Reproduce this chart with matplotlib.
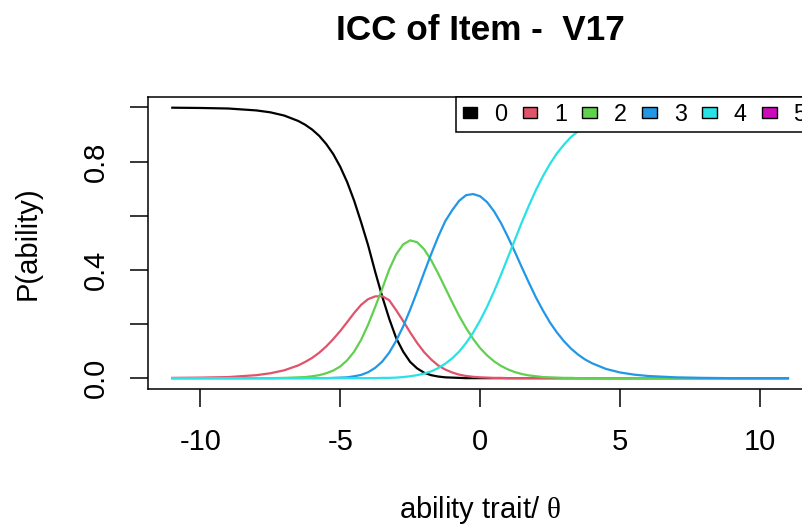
import matplotlib
matplotlib.use("Agg")
import matplotlib.pyplot as plt
from matplotlib.patches import Patch

plt.rcParams['font.family'] = 'Liberation Sans'
plt.rcParams['mathtext.fontset'] = 'custom'
plt.rcParams['mathtext.rm'] = 'Liberation Serif'

theta = [-11, -10, -9, -8, -7.5, -7, -6.5, -6.25, -6, -5.75, -5.5, -5.25, -5, -4.75, -4.5,
         -4.25, -4, -3.75, -3.5, -3.25, -3, -2.75, -2.5, -2.25, -2,
         -1.75, -1.5, -1.25, -1, -0.75, -0.5, -0.25, 0, 0.25, 0.5, 0.75, 1,
         1.25, 1.5, 1.75, 2, 2.25, 2.5, 2.75, 3, 3.25, 3.5, 3.75, 4, 4.5, 5, 5.5, 6,
         7, 8, 9, 10, 11]

p0 = [0.999, 0.998, 0.996, 0.989, 0.982, 0.970, 0.950, 0.936, 0.918, 0.895, 0.865, 0.828, 0.781, 0.724, 0.655,
      0.575, 0.490, 0.393, 0.302, 0.220, 0.148, 0.098, 0.060, 0.036, 0.020,
      0.011, 0.006, 0.003, 0.002, 0.001, 0, 0, 0, 0, 0, 0, 0,
      0, 0, 0, 0, 0, 0, 0, 0, 0, 0, 0, 0, 0, 0, 0, 0,
      0, 0, 0, 0, 0]

p1 = [0.001, 0.002, 0.004, 0.011, 0.018, 0.029, 0.047, 0.060, 0.075, 0.094, 0.117, 0.144, 0.174, 0.207, 0.241,
      0.271, 0.292, 0.302, 0.303, 0.288, 0.251, 0.211, 0.169, 0.130, 0.096,
      0.069, 0.047, 0.032, 0.021, 0.013, 0.008, 0.005, 0.003, 0.002, 0.001, 0.001, 0,
      0, 0, 0, 0, 0, 0, 0, 0, 0, 0, 0, 0, 0, 0, 0, 0,
      0, 0, 0, 0, 0]

p2 = [0, 0, 0, 0, 0, 0.001, 0.003, 0.004, 0.007, 0.011, 0.018, 0.028, 0.043, 0.066, 0.098,
      0.142, 0.198, 0.263, 0.330, 0.401, 0.457, 0.494, 0.509, 0.502, 0.476,
      0.436, 0.387, 0.334, 0.281, 0.230, 0.185, 0.145, 0.111, 0.084, 0.062, 0.045, 0.032,
      0.022, 0.015, 0.010, 0.007, 0.004, 0.003, 0.002, 0.001, 0.001, 0, 0, 0, 0, 0, 0, 0,
      0, 0, 0, 0, 0]

p3 = [0, 0, 0, 0, 0, 0, 0, 0, 0, 0, 0, 0.001, 0.002, 0.003, 0.007,
      0.012, 0.022, 0.038, 0.061, 0.094, 0.138, 0.191, 0.253, 0.320, 0.390,
      0.458, 0.522, 0.579, 0.620, 0.655, 0.676, 0.680, 0.672, 0.650, 0.616, 0.572, 0.520,
      0.465, 0.407, 0.351, 0.297, 0.249, 0.205, 0.168, 0.136, 0.109, 0.087, 0.069, 0.055, 0.034, 0.021, 0.013, 0.008,
      0.003, 0.001, 0, 0, 0]

p4 = [0, 0, 0, 0, 0, 0, 0, 0, 0, 0, 0, 0, 0, 0, 0,
      0, 0, 0, 0.001, 0.001, 0.002, 0.004, 0.007, 0.011, 0.017,
      0.025, 0.037, 0.053, 0.073, 0.098, 0.130, 0.168, 0.213, 0.264, 0.321, 0.383, 0.448,
      0.513, 0.578, 0.639, 0.696, 0.747, 0.792, 0.831, 0.863, 0.891, 0.912, 0.931, 0.945, 0.966, 0.979, 0.987, 0.992,
      0.997, 0.999, 1.0, 1.0, 1.0]

categories = ['0', '1', '2', '3', '4', '5']
colors = ['#000000', '#DF536B', '#61D04F', '#2297E6', '#28E2E5', '#CD0BBC']
curves = [p0, p1, p2, p3, p4]

xticks = [-10, -5, 0, 5, 10]
yticks = [0.0, 0.2, 0.4, 0.6, 0.8, 1.0]
ylabels = ['0.0', '', '0.4', '', '0.8', '']

fig = plt.figure(figsize=(8.03, 5.27), dpi=100)
# plot region runs a little past the right edge of the device, as in the original
ax = fig.add_axes([0.1839, 0.2619, 0.8280, 0.5548])

for p, c in zip(curves, colors):
    ax.plot(theta, p, color=c, lw=1.6)

ax.set_xlim(-11.88, 11.88)
ax.set_ylim(-0.04, 1.04)
ax.set_xticks(xticks)
ax.set_xticklabels([str(t) for t in xticks])
ax.set_yticks(yticks)
ax.set_yticklabels(ylabels, rotation=90, va='center')

ax.tick_params(axis='both', direction='out', length=13, width=1.1,
               labelsize=21, color='black')
ax.tick_params(axis='x', pad=15)
ax.tick_params(axis='y', pad=14)
for s in ax.spines.values():
    s.set_linewidth(1.1)

handles = [Patch(facecolor=c, edgecolor='black', lw=1.0) for c in colors]
leg = ax.legend(handles, categories, ncol=6, loc='upper right',
                bbox_to_anchor=(1, 1), borderaxespad=0, fontsize=16.8,
                handlelength=0.64, handleheight=0.39, handletextpad=0.71,
                columnspacing=0.66, borderpad=0.27, fancybox=False,
                edgecolor='black', framealpha=1)
leg.get_frame().set_linewidth(1.1)

fig.text(480 / 803, 1 - 40 / 527, 'ICC of Item -  V17', ha='center',
         va='baseline', fontsize=25.3, fontweight='bold')
fig.text(480 / 803, 1 - 518 / 527, r'ability trait/ $\mathrm{\theta}$',
         ha='center', va='baseline', fontsize=21)
fig.text(28 / 803, 1 - 243 / 527, 'P(ability)', rotation=90,
         ha='center', va='center', fontsize=21)

fig.savefig('out.png', dpi=100)
